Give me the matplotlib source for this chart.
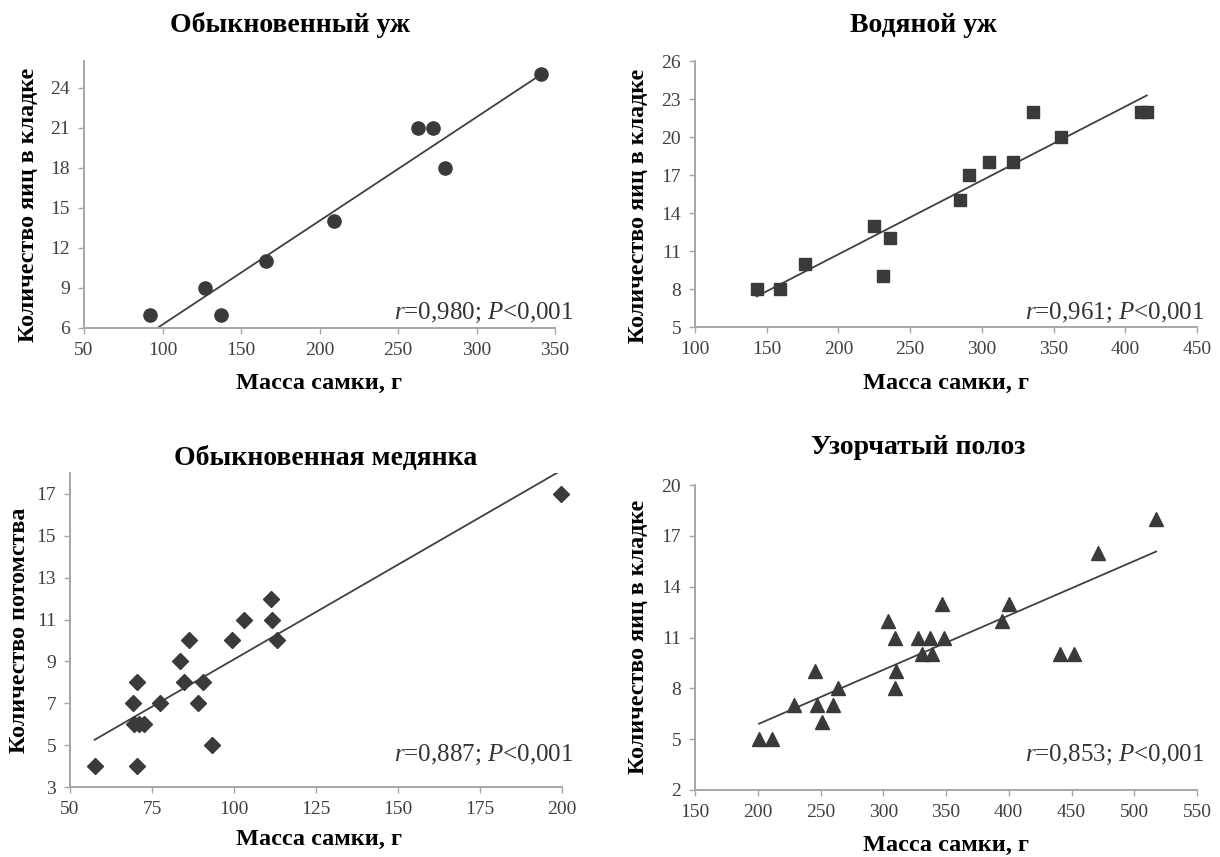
import matplotlib
matplotlib.use("Agg")
import matplotlib.pyplot as plt
import numpy as np

plt.rcParams["font.family"] = ["Liberation Serif", "DejaVu Serif"]
plt.rcParams["mathtext.fontset"] = "custom"
plt.rcParams["mathtext.rm"] = "Liberation Serif"
plt.rcParams["mathtext.it"] = "Liberation Serif:italic"

# female mass (g) vs clutch / litter size for four species
grass_mass = [92, 127, 137, 166, 209, 263, 272, 280, 341]
grass_eggs = [7, 9, 7, 11, 14, 21, 21, 18, 25]

dice_mass = [143, 159, 177, 225, 231, 236, 285, 291, 305, 322, 336, 355, 411, 415]
dice_eggs = [8, 8, 10, 13, 9, 12, 15, 17, 18, 18, 22, 20, 22, 22]

smooth_mass = [57.5, 70.3, 69.1, 70.3, 69.5, 71, 72.5, 77.4, 83.4, 84.8, 86.4,
               89.1, 90.5, 93.3, 99.3, 103.1, 111.4, 111.6, 113.2, 199.7]
smooth_young = [4, 4, 7, 8, 6, 6, 6, 7, 9, 8, 10, 7, 8, 5, 10, 11, 12, 11, 10, 17]

pattern_mass = [201, 211, 229, 246, 247, 251.5, 260, 264, 303.5, 309, 310.5, 309.5,
                328, 330.5, 337, 339, 347, 348.5, 395, 400, 441, 452, 471.5, 517.5]
pattern_eggs = [5, 5, 7, 9, 7, 6, 7, 8, 12, 11, 9, 8, 11, 10, 11, 10, 13, 11,
                12, 13, 10, 10, 16, 18]

titles = ["Обыкновенный уж", "Водяной уж", "Обыкновенная медянка", "Узорчатый полоз"]
ylabels = ["Количество яиц в кладке", "Количество яиц в кладке",
           "Количество потомства", "Количество яиц в кладке"]
xlabel = "Масса самки, г"
stats = ["$r$=0,980; $P$<0,001", "$r$=0,961; $P$<0,001",
         "$r$=0,887; $P$<0,001", "$r$=0,853; $P$<0,001"]

W, H = 1220, 857
fig = plt.figure(figsize=(W / 100, H / 100), dpi=100)


def fx(px):
    return px / W


def fy(py):
    return 1 - py / H


def make_axes(left, top, right, bottom):
    return fig.add_axes([fx(left), fy(bottom), (right - left) / W, (bottom - top) / H])


panels = [
    dict(box=(84, 61, 555, 328), x=grass_mass, y=grass_eggs, marker="o", ms=9.5,
         xlim=(50, 350), xstep=50, ylim=(6, 26), ystep=3,
         title_xy=(290, 25), xlab_xy=(319, 383), ylab_xy=(29, 205), stat_xy=(573, 313)),
    dict(box=(695, 61, 1197, 327), x=dice_mass, y=dice_eggs, marker="s", ms=8.5,
         xlim=(100, 450), xstep=50, ylim=(5, 26), ystep=3,
         title_xy=(923, 25), xlab_xy=(946, 383), ylab_xy=(639, 206), stat_xy=(1204, 313)),
    dict(box=(70, 473, 562, 787), x=smooth_mass, y=smooth_young, marker="D", ms=8.5,
         xlim=(50, 200), xstep=25, ylim=(3, 18), ystep=2,
         title_xy=(326, 458), xlab_xy=(319, 839), ylab_xy=(20, 630), stat_xy=(573, 755)),
    dict(box=(695, 485, 1197, 790), x=pattern_mass, y=pattern_eggs, marker="^", ms=10,
         xlim=(150, 550), xstep=50, ylim=(2, 20), ystep=3,
         title_xy=(918, 448), xlab_xy=(946, 845), ylab_xy=(639, 637), stat_xy=(1204, 755)),
]

spine_c = "#a6a6a6"
text_c = "#404040"

for i, p in enumerate(panels):
    ax = make_axes(*p["box"])
    x = np.asarray(p["x"], dtype=float)
    y = np.asarray(p["y"], dtype=float)
    ax.plot(x, y, linestyle="none", marker=p["marker"], ms=p["ms"],
            color="#3a3a3a", mec="#3a3a3a", zorder=3, clip_on=False)

    # linear trend over the data range
    k, b = np.polyfit(x, y, 1)
    xs = np.array([x.min(), x.max()])
    ax.plot(xs, k * xs + b, color="#404040", lw=1.3, zorder=2)

    ax.set_xlim(*p["xlim"])
    ax.set_ylim(*p["ylim"])
    ax.set_xticks(np.arange(p["xlim"][0], p["xlim"][1] + 1, p["xstep"]))
    ax.set_yticks(np.arange(p["ylim"][0], p["ylim"][1] + 0.1, p["ystep"]))
    for side in ("top", "right"):
        ax.spines[side].set_visible(False)
    for side in ("left", "bottom"):
        ax.spines[side].set_color(spine_c)
        ax.spines[side].set_linewidth(1.4)
    ax.tick_params(direction="out", length=4, width=1, color=spine_c,
                   labelsize=14, labelcolor=text_c, pad=6)

    fig.text(fx(p["title_xy"][0]), fy(p["title_xy"][1]), titles[i], ha="center",
             va="center", fontsize=20, fontweight="bold")
    fig.text(fx(p["xlab_xy"][0]), fy(p["xlab_xy"][1]), xlabel, ha="center",
             va="center", fontsize=17.5, fontweight="bold")
    fig.text(fx(p["ylab_xy"][0]), fy(p["ylab_xy"][1]), ylabels[i], ha="center",
             va="center", rotation=90, fontsize=17.3, fontweight="bold")
    fig.text(fx(p["stat_xy"][0]), fy(p["stat_xy"][1]), stats[i], ha="right",
             va="center", fontsize=18, color="#333333")

fig.savefig("out.png", dpi=100)
